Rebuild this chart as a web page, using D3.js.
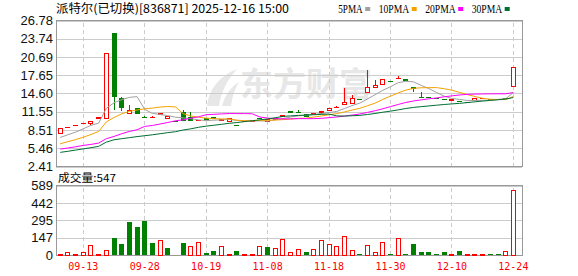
<!DOCTYPE html>
<html>
<head>
<meta charset="utf-8">
<script src="https://cdn.jsdelivr.net/npm/d3@7/dist/d3.min.js"></script>
<style>
    body { margin: 0; background: #fff; }
    svg { display: block; }
</style>
</head>
<body>
<div id="chart"></div>
<script>
// ---- data ----
const dates = ["09-10", "09-11", "09-12", "09-13", "09-15", "09-16", "09-17", "09-18", "09-19", "09-22",
    "09-23", "09-28", "09-29", "09-30", "10-09", "10-10", "10-13", "10-14", "10-16", "10-19",
    "10-20", "10-22", "10-24", "10-27", "10-29", "10-31", "11-04", "11-08", "11-10", "11-11",
    "11-12", "11-13", "11-14", "11-16", "11-17", "11-18", "11-19", "11-20", "11-21", "11-24",
    "11-25", "11-26", "11-27", "11-30", "12-01", "12-02", "12-03", "12-04", "12-05", "12-08",
    "12-09", "12-10", "12-11", "12-12", "12-15", "12-16", "12-17", "12-18", "12-22", "12-24"]

const open = [7.93, 8.90, 9.24, 9.52, 9.55, 10.50, 10.40, 24.73, 13.87, 11.20,
    12.25, 10.75, 10.58, 11.15, 10.50, 9.95, 11.59, 10.60, 10.10, 10.48,
    10.68, 10.15, 9.87, 9.30, 9.88, 9.98, 10.56, 9.87, 10.30, 10.70,
    11.70, 11.50, 11.20, 11.15, 11.37, 11.80, 12.25, 12.80, 12.87, 13.68,
    14.80, 15.60, 16.03, 16.62, 17.05, 17.08, 15.75, 14.00, 14.00, 13.78,
    13.75, 13.50, 13.40, 13.12, 13.47, 13.72, 13.72, 13.72, 13.78, 15.70]
const high = [8.71, 8.95, 9.27, 9.55, 9.90, 10.55, 21.30, 24.75, 13.97, 12.60,
    12.25, 10.90, 10.85, 11.22, 10.80, 9.95, 11.80, 11.47, 10.15, 10.48,
    10.68, 10.30, 10.50, 9.30, 9.90, 10.00, 10.56, 10.26, 10.45, 10.85,
    11.70, 11.80, 11.20, 11.22, 11.64, 12.10, 12.50, 15.58, 14.42, 13.68,
    18.58, 16.90, 16.86, 16.62, 17.46, 17.08, 15.75, 14.86, 14.00, 13.78,
    13.75, 13.53, 13.40, 13.12, 13.75, 13.75, 13.72, 13.72, 13.78, 18.86]
const low = [7.93, 8.90, 9.24, 9.52, 9.30, 10.50, 10.40, 11.87, 11.70, 11.20,
    11.10, 10.50, 10.58, 11.15, 10.50, 9.90, 10.04, 10.04, 10.10, 10.20,
    10.26, 10.15, 9.87, 9.25, 9.88, 9.98, 10.50, 9.87, 10.30, 10.70,
    11.30, 11.45, 10.70, 11.15, 11.20, 11.80, 12.25, 12.80, 12.87, 13.65,
    14.80, 15.60, 16.03, 16.60, 17.05, 16.75, 14.86, 13.97, 13.95, 13.75,
    13.65, 13.50, 13.10, 13.10, 13.47, 13.72, 13.70, 13.70, 13.75, 15.70]
const close = [8.71, 8.95, 9.27, 9.55, 9.87, 10.55, 21.30, 13.97, 12.14, 11.80,
    11.14, 10.70, 10.62, 11.22, 10.80, 9.90, 10.04, 10.04, 10.15, 10.20,
    10.26, 10.30, 10.50, 9.25, 9.90, 10.00, 10.50, 10.26, 10.45, 10.85,
    11.30, 11.45, 10.70, 11.22, 11.64, 12.10, 12.32, 13.13, 13.70, 13.65,
    15.58, 15.90, 16.86, 16.60, 17.08, 16.75, 15.36, 13.97, 13.95, 13.75,
    13.65, 13.53, 13.10, 13.10, 13.75, 13.75, 13.70, 13.70, 13.75, 18.86]

const ma5 = [7.26, 7.71, 8.15, 8.71, 9.27, 9.64, 12.11, 13.05, 13.57, 13.95,
    14.07, 11.95, 11.28, 11.10, 10.90, 10.65, 10.52, 10.40, 10.19, 10.07,
    10.14, 10.19, 10.28, 10.10, 10.04, 9.99, 10.03, 9.98, 10.22, 10.41,
    10.67, 10.86, 10.95, 11.10, 11.26, 11.42, 11.60, 12.08, 12.58, 12.98,
    13.68, 14.39, 15.14, 15.72, 16.40, 16.64, 16.53, 15.95, 15.42, 14.76,
    14.14, 13.77, 13.60, 13.43, 13.43, 13.45, 13.48, 13.60, 13.73, 14.75]
const ma10 = [6.20, 6.55, 6.90, 7.30, 7.75, 8.25, 9.85, 10.60, 11.20, 11.61,
    11.85, 12.03, 12.16, 12.33, 12.42, 12.36, 11.23, 10.84, 10.64, 10.48,
    10.39, 10.35, 10.34, 10.14, 10.05, 10.06, 10.11, 10.13, 10.16, 10.23,
    10.33, 10.45, 10.47, 10.66, 10.84, 11.05, 11.23, 11.52, 11.84, 12.12,
    12.55, 12.99, 13.61, 14.15, 14.69, 15.16, 15.46, 15.55, 15.57, 15.58,
    15.39, 15.15, 14.77, 14.42, 14.09, 13.79, 13.63, 13.60, 13.58, 14.09]
const ma20 = [5.32, 5.50, 5.70, 5.93, 6.10, 6.32, 7.05, 7.43, 7.88, 8.26,
    8.54, 9.10, 9.26, 9.50, 9.76, 10.04, 10.20, 10.47, 10.70, 11.05,
    11.12, 11.19, 11.25, 11.24, 11.24, 11.21, 10.67, 10.49, 10.40, 10.35,
    10.36, 10.40, 10.40, 10.40, 10.45, 10.56, 10.67, 10.82, 11.00, 11.17,
    11.44, 11.72, 12.04, 12.41, 12.76, 13.10, 13.35, 13.53, 13.71, 13.85,
    14.05, 14.20, 14.35, 14.45, 14.50, 14.52, 14.54, 14.55, 14.55, 14.75]
const ma30 = [4.77, 4.95, 5.15, 5.35, 5.55, 5.77, 6.48, 6.87, 7.05, 7.22,
    7.40, 7.55, 7.70, 7.88, 8.06, 8.22, 8.50, 8.70, 8.95, 9.15,
    9.30, 9.45, 9.62, 9.75, 9.90, 10.05, 10.20, 10.35, 10.55, 10.77,
    10.86, 10.94, 10.99, 11.05, 11.11, 11.16, 10.86, 10.83, 10.88, 10.94,
    11.09, 11.26, 11.47, 11.65, 11.86, 12.09, 12.27, 12.40, 12.52, 12.64,
    12.76, 12.86, 12.95, 13.08, 13.21, 13.33, 13.44, 13.55, 13.66, 13.93]

const volume = [8, 23, 8, 17, 82, 8, 34, 144, 93, 280,
    238, 289, 102, 119, 59, 0, 102, 73, 102, 17,
    34, 73, 8, 34, 8, 8, 73, 70, 59, 133,
    25, 48, 25, 48, 119, 93, 74, 159, 42, 8,
    82, 25, 110, 8, 142, 8, 93, 25, 25, 8,
    25, 8, 34, 5, 5, 5, 5, 5, 31, 547]
// 1 = red (up) bar, 0 = green bar
const volUp = [1, 1, 1, 1, 1, 1, 1, 0, 0, 0,
    0, 0, 0, 1, 0, 0, 0, 1, 1, 0,
    0, 1, 1, 0, 1, 1, 1, 0, 1, 1,
    1, 1, 0, 1, 1, 1, 1, 1, 1, 0,
    1, 1, 1, 0, 1, 0, 0, 0, 0, 0,
    0, 1, 0, 1, 1, 1, 0, 0, 1, 1]

const priceTicks = [2.41, 5.46, 8.51, 11.55, 14.60, 17.65, 20.69, 23.74, 26.78]
const volTicks = [0, 147, 295, 442, 589]
const dateTicks = ["09-13", "09-28", "10-19", "11-08", "11-18", "11-30", "12-10", "12-24"]

const maNames = ["5PMA", "10PMA", "20PMA", "30PMA"]
const maColors = ["#a0a0a0", "#f5a200", "#ff00ff", "#006f32"]

const title = "派特尔(已切换)[836871] 2025-12-16 15:00"
const volTitle = "成交量:547"

// ---- layout ----
const W = 578, H = 276
const left = 56, right = 522
const pTop = 20.5, pBottom = 166.5
const vTop = 185.5, vBottom = 255
const RED = "#ff0000", GREEN = "#008000"

let svg = d3.select("#chart").append("svg")
    .attr("width", W)
    .attr("height", H)

let x = d3.scaleBand().domain(dates).range([56.4, 517.2])
let cx = d => x(d) + x.bandwidth() / 2
let y = d3.scaleLinear().domain([2.41, 26.78]).range([pBottom, pTop])
let yv = d3.scaleLinear().domain([0, 589]).range([vBottom, vTop])

// watermark
let wm = svg.append("g").attr("fill", "#e7e7e7")
wm.append("path").attr("d", "M207,106 C209,88 220,76 237,69 C227,80 221,92 219,106 Z")
wm.append("path").attr("d", "M222,106 C225,95 231,87 239,82 C234,90 232,98 231,106 Z")
wm.append("text")
    .attr("x", 240).attr("y", 96)
    .attr("font-family", "Noto Sans CJK SC").attr("font-weight", "bold")
    .attr("font-size", 33)
    .text("东方财富")

function drawGrid(yScale, ticks, top, bottom) {
    let g = svg.append("g")
        .attr("transform", "translate(" + left + ",0)")
        .call(d3.axisLeft(yScale).tickValues(ticks).tickSize(-(right - left)).tickFormat(""))
    g.select(".domain").remove()
    g.selectAll("line").attr("stroke", "#cccccc").attr("shape-rendering", "crispEdges")

    let gx = svg.append("g")
        .attr("transform", "translate(0," + bottom + ")")
        .call(d3.axisBottom(x).tickValues(dateTicks).tickSize(-(bottom - top)).tickFormat(""))
    gx.select(".domain").remove()
    gx.selectAll("line").attr("stroke", "#cccccc").attr("stroke-dasharray", "4,3")
        .attr("shape-rendering", "crispEdges")

    svg.append("rect")
        .attr("x", left).attr("y", top)
        .attr("width", right - left).attr("height", bottom - top)
        .attr("fill", "none").attr("stroke", "#999999")
        .attr("shape-rendering", "crispEdges")
}

function drawLabels(yScale, ticks, fmt) {
    let g = svg.append("g")
        .attr("transform", "translate(" + left + ",0)")
        .call(d3.axisLeft(yScale).tickValues(ticks).tickSize(0).tickPadding(3).tickFormat(fmt))
    g.select(".domain").remove()
    g.selectAll("text")
        .attr("font-family", "Liberation Sans, Arial, sans-serif")
        .attr("font-size", 13)
        .attr("fill", "#111")
}

drawGrid(y, priceTicks, pTop, pBottom)
drawGrid(yv, volTicks, vTop, vBottom)
drawLabels(y, priceTicks, d3.format(".2f"))
drawLabels(yv, volTicks, d3.format("d"))

// candles
let candles = svg.append("g").attr("shape-rendering", "crispEdges")
dates.forEach((d, i) => {
    let up = close[i] >= open[i]
    let col = up ? RED : GREEN
    candles.append("line")
        .attr("x1", cx(d)).attr("x2", cx(d))
        .attr("y1", y(high[i])).attr("y2", y(low[i]))
        .attr("stroke", col)
    if (up) {
        candles.append("rect")
            .attr("x", cx(d) - 2).attr("width", 4)
            .attr("y", y(close[i]))
            .attr("height", Math.max(y(open[i]) - y(close[i]), 0))
            .attr("fill", "#fff").attr("stroke", RED)
    } else {
        candles.append("rect")
            .attr("x", cx(d) - 2.5).attr("width", 5)
            .attr("y", y(open[i]))
            .attr("height", Math.max(y(close[i]) - y(open[i]), 1))
            .attr("fill", GREEN)
    }
})

// moving averages
let line = d3.line()
    .x((v, i) => cx(dates[i]))
    .y(v => y(v))
;[ma5, ma10, ma20, ma30].forEach((series, k) => {
    svg.append("path")
        .datum(series)
        .attr("fill", "none")
        .attr("stroke", maColors[k])
        .attr("stroke-width", 1)
        .attr("d", line)
})

// volume bars
let bars = svg.append("g").attr("shape-rendering", "crispEdges")
dates.forEach((d, i) => {
    if (volUp[i]) {
        bars.append("rect")
            .attr("x", cx(d) - 2).attr("width", 4)
            .attr("y", yv(volume[i])).attr("height", vBottom - yv(volume[i]))
            .attr("fill", "#fff").attr("stroke", RED)
    } else {
        bars.append("rect")
            .attr("x", cx(d) - 2.5).attr("width", 5)
            .attr("y", yv(volume[i])).attr("height", vBottom - yv(volume[i]))
            .attr("fill", GREEN)
    }
})

// date labels
let gDate = svg.append("g")
    .attr("transform", "translate(0," + vBottom + ")")
    .call(d3.axisBottom(x).tickValues(dateTicks).tickSize(0).tickPadding(8))
gDate.select(".domain").remove()
gDate.selectAll("text")
    .attr("font-family", "DejaVu Sans Mono, monospace")
    .attr("font-size", 10)
    .attr("fill", RED)

// titles
svg.append("text")
    .attr("x", 56).attr("y", 13)
    .attr("font-family", "Noto Sans CJK SC").attr("font-size", 12)
    .attr("textLength", 233).attr("lengthAdjust", "spacingAndGlyphs")
    .text(title)

svg.append("text")
    .attr("x", 58).attr("y", 181.5)
    .attr("font-family", "Noto Sans CJK SC").attr("font-size", 11)
    .attr("textLength", 58).attr("lengthAdjust", "spacingAndGlyphs")
    .text(volTitle)

// legend
let lx = 338.3
maNames.forEach((name, k) => {
    let w = name.length * 6.1
    svg.append("text")
        .attr("x", lx).attr("y", 13)
        .attr("font-family", "Liberation Serif, serif").attr("font-size", 13)
        .attr("textLength", w).attr("lengthAdjust", "spacingAndGlyphs")
        .text(name)
    svg.append("rect")
        .attr("x", lx + w + 2.5).attr("y", 7)
        .attr("width", 5).attr("height", 4)
        .attr("fill", maColors[k])
    lx += w + 2.5 + 5 + 8.5
})
</script>
</body>
</html>
